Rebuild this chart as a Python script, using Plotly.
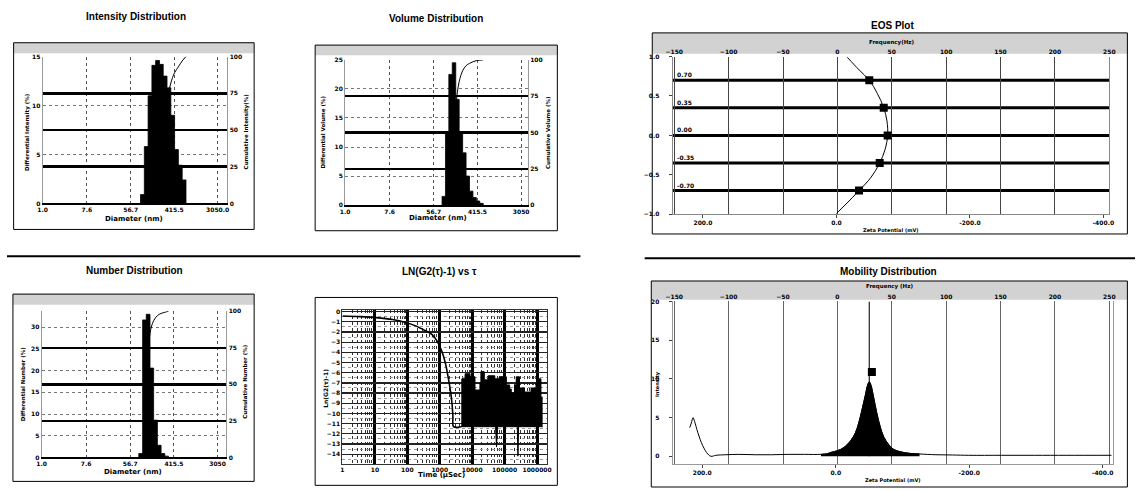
import plotly.graph_objects as go

W, H = 1141, 491

# ---------------- data ----------------
size_tickvals = [1.0, 7.6, 56.7, 415.5, 3050.0]
int_ticktext = ["1.0", "7.6", "56.7", "415.5", "3050.0"]
vol_ticktext = ["1.0", "7.6", "56.7", "415.5", "3050"]
num_ticktext = ["1.0", "7.6", "56.7", "415.5", "3050"]
cum_tickvals = [0, 25, 50, 75, 100]

int_edges_nm = [89, 106, 126, 150, 178, 212, 252, 300, 357, 424, 505, 601, 715]
int_diff_pct = [0.9, 5.8, 11.0, 14.1, 14.6, 14.2, 13.0, 11.8, 9.0, 5.5, 3.9, 2.4]
int_cum_pct = [0, 1, 6, 16, 29, 43, 57, 70, 82, 89, 93, 97, 100]

vol_edges_nm = [83, 97, 113, 132, 155, 181, 212, 248, 290, 339, 396, 463, 542]
vol_diff_pct = [1.5, 12.3, 22.5, 24.5, 18.2, 12.5, 9.0, 5.0, 2.4, 1.3, 0.7, 0.3]
vol_cum_pct = [0, 1, 12, 35, 68, 85, 92.5, 96, 97.6, 98.7, 99.5, 99.8, 100]

num_edges_nm = [84, 100, 118, 140, 165, 196, 232, 275, 325]
num_diff_pct = [0.9, 31.7, 33.0, 20.6, 8.6, 2.8, 0.9, 0.3]
num_cum_pct = [0, 2, 45, 85, 93.5, 97, 98.5, 99.3, 100]

# LN(G2(tau)-1) vs tau
tau_fit_us = [1, 3.4, 10.9, 35, 89, 180, 364, 582, 828, 1175, 1485, 1792, 2109, 2371, 2545, 2667, 4500]
ln_fit = [-0.43, -0.49, -0.59, -0.78, -1.07, -1.40, -1.88, -2.25, -2.9, -3.95, -5.05,
          -6.35, -7.65, -8.95, -10.25, -11.3, -11.3]
noise_tau_us = [4500, 4790, 6040, 8590, 12190, 17300, 18550, 23550, 31190, 49660, 70470,
                112700, 142500, 160000, 201800, 227500, 287000, 407400, 651600, 926000,
                1042000, 1315000, 1479000]
noise_upper = [-11.3, -6.6, -6.1, -6.4, -7.7, -7.0, -5.9, -6.7, -6.3, -6.6, -6.4,
               -7.2, -7.6, -8.0, -7.2, -6.4, -7.5, -7.9, -7.5, -7.0, -6.6, -8.4, -8.4]
noise_low_tau_us = [4500, 52500, 56200, 60300, 245500, 257000, 269000, 1479000]
noise_lower = [-11.3, -11.3, -13.3, -11.3, -11.3, -14.2, -11.3, -11.3]
ln_tickvals = [1, 10, 100, 1000, 10000, 100000, 1000000]
ln_ticktext = ["1", "10", "100", "1000", "10000", "100000", "1000000"]
ln_ytickvals = list(range(0, -15, -1))

# EOS plot
eos_pos = [0.70, 0.35, 0.00, -0.35, -0.70]
eos_freq_hz = [29.3, 42.6, 46.2, 38.9, 19.9]
eos_fit_pos = [0.99, 0.83, 0.70, 0.53, 0.35, 0.18, 0.00, -0.18, -0.35, -0.53, -0.70, -0.87, -0.99]
eos_fit_hz = [9.1, 20.0, 29.3, 36.8, 42.6, 45.6, 46.2, 43.8, 38.9, 31.0, 19.9, 8.0, -0.9]

freq_tickvals = [-150, -100, -50, 0, 50, 100, 150, 200, 250]
zeta_tickvals = [200, 0, -200, -400]
zeta_ticktext = ["200.0", "0.0", "-200.0", "-400.0"]

# Mobility distribution
mob_hz = [-135.8, -134.3, -132.8, -131.3, -128.3, -123.8, -119.2, -116.2, -111.7, -102.6,
          -90.6, -75.5, -60.4, -45.3, -30.2, -15.1, -9.1, -6.0, 0.0, 6.0, 12.1, 16.6, 19.6,
          22.6, 25.7, 27.8, 29.3, 30.8, 33.2, 36.2, 39.2, 42.3, 46.8, 51.3, 57.4, 66.4, 75.5,
          90.6, 105.7, 120.8, 151.0, 181.0, 211.0, 252.0]
mob_int = [3.7, 4.3, 5.0, 4.5, 3.05, 1.36, 0.3, 0.0, 0.13, 0.2, 0.25, 0.2, 0.2, 0.25, 0.25,
           0.25, 0.34, 0.5, 0.72, 1.14, 2.0, 3.05, 4.3, 6.0, 7.9, 9.2, 9.6, 9.2, 7.7, 5.6, 3.9,
           2.6, 1.57, 0.93, 0.6, 0.38, 0.3, 0.2, 0.17, 0.13, 0.13, 0.13, 0.13, 0.13]
mob_peak_hz = 29.3
mob_marker_hz = 31.7
mob_marker_val = 10.9
mob_fill_range_hz = [-15.1, 75.5]

# ---------------- helpers ----------------
TF = dict(family="DejaVu Sans", size=6, color="black", weight="bold")


def xdom(a, b):
    return [a / W, b / W]


def ydom(top, bot):
    return [1 - bot / H, 1 - top / H]


fig = go.Figure()


def add_dist(edges, diff, cum, xa, ya, ya2):
    xs = [edges[0]] + list(edges)
    ys = [0] + list(diff) + [0]
    fig.add_trace(go.Scatter(x=xs, y=ys, mode="lines",
                             line=dict(color="black", width=0.8, shape="hv"),
                             fill="tozeroy", fillcolor="black",
                             xaxis=xa, yaxis=ya, hoverinfo="skip"))
    fig.add_trace(go.Scatter(x=edges, y=cum, mode="lines",
                             line=dict(color="black", width=1, shape="spline"),
                             xaxis=xa, yaxis=ya2, hoverinfo="skip"))


add_dist(int_edges_nm, int_diff_pct, int_cum_pct, "x", "y", "y2")
add_dist(vol_edges_nm, vol_diff_pct, vol_cum_pct, "x2", "y3", "y4")
add_dist(num_edges_nm, num_diff_pct, num_cum_pct, "x3", "y5", "y6")

# LN plot
fig.add_trace(go.Scatter(x=noise_low_tau_us, y=noise_lower, mode="lines",
                         line=dict(color="black", width=1), xaxis="x4", yaxis="y7"))
fig.add_trace(go.Scatter(x=noise_tau_us, y=noise_upper, mode="lines",
                         line=dict(color="black", width=1, shape="hv"),
                         fill="tonexty", fillcolor="black", xaxis="x4", yaxis="y7"))
fig.add_trace(go.Scatter(x=tau_fit_us, y=ln_fit, mode="lines",
                         line=dict(color="black", width=1.6, shape="spline"),
                         xaxis="x4", yaxis="y7"))

# EOS
fig.add_trace(go.Scatter(x=zeta_tickvals, y=[0] * len(zeta_tickvals), mode="markers",
                         marker=dict(opacity=0), xaxis="x5", yaxis="y8", hoverinfo="skip"))
fig.add_trace(go.Scatter(x=eos_fit_hz, y=eos_fit_pos, mode="lines",
                         line=dict(color="black", width=1, shape="spline"),
                         xaxis="x6", yaxis="y8"))
fig.add_trace(go.Scatter(x=eos_freq_hz, y=eos_pos, mode="markers",
                         marker=dict(symbol="square", size=8, color="black"),
                         xaxis="x6", yaxis="y8"))

# Mobility
fig.add_trace(go.Scatter(x=zeta_tickvals, y=[0] * len(zeta_tickvals), mode="markers",
                         marker=dict(opacity=0), xaxis="x7", yaxis="y9", hoverinfo="skip"))
fill_hz = [h for h in mob_hz if mob_fill_range_hz[0] <= h <= mob_fill_range_hz[1]]
fill_int = [v for h, v in zip(mob_hz, mob_int) if mob_fill_range_hz[0] <= h <= mob_fill_range_hz[1]]
fig.add_trace(go.Scatter(x=[mob_peak_hz, mob_peak_hz], y=[0, 20], mode="lines",
                         line=dict(color="#222", width=1.2), xaxis="x8", yaxis="y9"))
fig.add_trace(go.Scatter(x=fill_hz, y=fill_int, mode="lines",
                         line=dict(color="black", width=1, shape="spline"),
                         fill="tozeroy", fillcolor="black", xaxis="x8", yaxis="y9"))
fig.add_trace(go.Scatter(x=mob_hz, y=mob_int, mode="lines",
                         line=dict(color="black", width=1, shape="spline"),
                         xaxis="x8", yaxis="y9"))
fig.add_trace(go.Scatter(x=[mob_marker_hz], y=[mob_marker_val], mode="markers",
                         marker=dict(symbol="square", size=8, color="black"),
                         xaxis="x8", yaxis="y9"))


# ---------------- axes ----------------
def size_axis(dom, anchor, rng, ticktext):
    return dict(domain=dom, anchor=anchor, type="log", range=rng, tickmode="array",
                tickvals=size_tickvals, ticktext=ticktext, showgrid=True, gridcolor="#555",
                griddash="dot", gridwidth=1, showline=True, linecolor="black", linewidth=1.5,
                ticks="", tickfont=TF, zeroline=False)


def left_axis(dom, anchor, rng, tv):
    return dict(domain=dom, anchor=anchor, range=rng, tickmode="array", tickvals=tv,
                showgrid=True, gridcolor="#777", griddash="dot", gridwidth=1, showline=True,
                linecolor="#999", linewidth=1, ticks="", tickfont=TF, zeroline=False)


def right_axis(overlay, anchor):
    return dict(overlaying=overlay, anchor=anchor, side="right", range=[0, 100],
                tickmode="array", tickvals=cum_tickvals, showgrid=True, gridcolor="black",
                gridwidth=2.5, showline=True, linecolor="#999", ticks="", tickfont=TF,
                zeroline=False)


lay = dict(width=W, height=H, margin=dict(l=0, r=0, t=0, b=0), paper_bgcolor="white",
           plot_bgcolor="rgba(0,0,0,0)", showlegend=False, hovermode=False,
           font=dict(family="DejaVu Sans", color="black"))

lay["xaxis"] = size_axis(xdom(36, 223), "y", [0, 3.68], int_ticktext)
lay["yaxis"] = left_axis(ydom(53.3, 202.3), "x", [0, 15], [0, 5, 10, 15])
lay["yaxis2"] = right_axis("y", "x")

lay["xaxis2"] = size_axis(xdom(342, 527), "y3", [0, 3.62], vol_ticktext)
lay["yaxis3"] = left_axis(ydom(56.7, 204), "x2", [0, 25], [0, 5, 10, 15, 20, 25])
lay["yaxis4"] = right_axis("y3", "x2")

lay["xaxis3"] = size_axis(xdom(35, 222), "y5", [0, 3.66], num_ticktext)
lay["yaxis5"] = left_axis(ydom(311.7, 460), "x3", [0, 33.7], [0, 5, 10, 15, 20, 25, 30])
lay["yaxis6"] = right_axis("y5", "x3")

ln_minor = [k * 10 ** d for d in range(0, 7) for k in range(2, 10)]
lay["xaxis4"] = dict(domain=xdom(339.3, 546.7), anchor="y7", type="log", range=[0, 6.32],
                     tickmode="array", tickvals=ln_tickvals, ticktext=ln_ticktext,
                     showgrid=True, gridcolor="black", gridwidth=3, ticks="", tickfont=TF,
                     showline=True, linecolor="#333", mirror=True, zeroline=False,
                     minor=dict(tickmode="array", tickvals=ln_minor, showgrid=True,
                                gridcolor="#333", griddash="dot", gridwidth=1, ticks=""))
lay["yaxis7"] = dict(domain=ydom(310, 466.5), anchor="x4", range=[-14.95, 0.2],
                     tickmode="array", tickvals=ln_ytickvals, showgrid=True, gridcolor="#222",
                     gridwidth=1.3, ticks="", tickfont=TF, showline=True, linecolor="#333",
                     mirror=True, zeroline=False,
                     minor=dict(dtick=0.5, showgrid=True, gridcolor="#999", griddash="dot",
                                gridwidth=1, ticks=""))

# EOS axes
lay["xaxis5"] = dict(domain=xdom(673.3, 1115), anchor="y8", range=[245.5, -408.9],
                     tickmode="array", tickvals=zeta_tickvals, ticktext=zeta_ticktext,
                     showgrid=False, ticks="outside", ticklen=3, tickcolor="#444",
                     tickfont=TF, showline=True, linecolor="#888", zeroline=False)
lay["xaxis6"] = dict(overlaying="x5", anchor="y8", side="top", range=[-151.5, 250],
                     tickmode="array", tickvals=freq_tickvals, showgrid=True,
                     gridcolor="#444", gridwidth=1, ticks="", tickfont=TF, zeroline=False)
lay["yaxis8"] = dict(domain=ydom(53.3, 213.3), anchor="x5", range=[-1, 1], tickmode="array",
                     tickvals=[1.0, 0.5, 0.0, -0.5, -1.0], tickformat=".1f", showgrid=False,
                     ticks="outside", ticklen=3, tickcolor="#444", ticklabelstandoff=8,
                     tickfont=TF, showline=True, linecolor="#888", mirror=True,
                     zeroline=False)

# Mobility axes
lay["xaxis7"] = dict(domain=xdom(673.3, 1118.3), anchor="y9", range=[244.4, -414.8],
                     tickmode="array", tickvals=zeta_tickvals, ticktext=zeta_ticktext,
                     showgrid=False, ticks="outside", ticklen=3, tickcolor="#444",
                     tickfont=TF, showline=True, linecolor="#999", zeroline=False)
lay["xaxis8"] = dict(overlaying="x7", anchor="y9", side="top", range=[-151.5, 253],
                     tickmode="array", tickvals=freq_tickvals, showgrid=True,
                     gridcolor="#666", gridwidth=1, ticks="", tickfont=TF, zeroline=False)
lay["yaxis9"] = dict(domain=ydom(301.7, 466.7), anchor="x7", range=[-1, 20],
                     tickmode="array", tickvals=[0, 5, 10, 15, 20], showgrid=False,
                     ticks="outside", ticklen=3, tickcolor="#444", ticklabelstandoff=8,
                     tickfont=TF, showline=True, linecolor="#999", mirror=True,
                     zeroline=False)

# ---------------- shapes ----------------
shapes = []


def prect(x0, y0, x1, y1, fill=None, lw=1, layer="above"):
    d = dict(type="rect", xref="paper", yref="paper", x0=x0 / W, x1=x1 / W,
             y0=1 - y1 / H, y1=1 - y0 / H, layer=layer)
    if fill:
        d.update(fillcolor=fill, line=dict(width=0))
    else:
        d.update(line=dict(color="black", width=lw))
    return d


# grey header bands
for b in [(6.7, 39.3, 250, 50), (311.7, 41.7, 556.7, 52), (6, 294.3, 250, 305),
          (652.7, 29.3, 1133.3, 50.5), (651.7, 281, 1133.3, 300)]:
    shapes.append(prect(*b, fill="#d2d2d2", layer="below"))
# outer boxes
for b in [(6.7, 39.3, 250, 228.7), (311.7, 41.7, 556.7, 230), (6, 294.3, 250, 484.3),
          (311.7, 297.7, 556.7, 488.3), (652.7, 29.3, 1133.3, 233.3), (651.7, 281, 1133.3, 490)]:
    shapes.append(prect(*b))
# separators
shapes.append(dict(type="line", xref="paper", yref="paper", x0=0, x1=580 / W,
                   y0=1 - 256 / H, y1=1 - 256 / H, line=dict(color="black", width=2)))
shapes.append(dict(type="line", xref="paper", yref="paper", x0=645 / W, x1=1,
                   y0=1 - 258 / H, y1=1 - 258 / H, line=dict(color="black", width=2)))
# EOS position lines
for p in eos_pos:
    shapes.append(dict(type="line", xref="x6 domain", yref="y8", x0=0, x1=1, y0=p, y1=p,
                       line=dict(color="black", width=3), layer="below"))

# ---------------- annotations ----------------
ann = []


def note(text, x, y, size=7, angle=0, bold=True, family="DejaVu Sans"):
    ann.append(dict(text=("<b>%s</b>" % text) if bold else text, x=x / W, y=1 - y / H,
                    xref="paper", yref="paper", showarrow=False, textangle=angle,
                    xanchor="center", yanchor="middle",
                    font=dict(family=family, size=size, color="black")))


TITLE_F = "Liberation Sans"
note("Intensity Distribution", 130, 13, 10, family=TITLE_F)
note("Volume Distribution", 434, 15, 10, family=TITLE_F)
note("Number Distribution", 129, 270, 10, family=TITLE_F)
note("LN(G2(τ)-1) vs τ", 437, 271, 10, family=TITLE_F)
note("EOS Plot", 896, 22, 10, family=TITLE_F)
note("Mobility Distribution", 892, 271, 10, family=TITLE_F)

note("Diameter (nm)", 128, 218, 7)
note("Differential Intensity (%)", 20, 130, 5.5, angle=-90)
note("Cumulative Intensity(%)", 242, 129, 5.5, angle=-90)
note("Diameter (nm)", 436, 217, 7)
note("Differential Volume (%)", 320, 130, 5.5, angle=-90)
note("Cumulative Volume (%)", 547, 130, 5.5, angle=-90)
note("Diameter (nm)", 127, 475, 7)
note("Differential Number (%)", 16, 385, 5.5, angle=-90)
note("Cumulative Number (%)", 240, 383, 5.5, angle=-90)
note("Time (μSec)", 440, 478, 7)
note("Ln(G2(τ)-1)", 322, 390, 6, angle=-90)
note("Frequency(Hz)", 895, 39, 5.5)
note("Zeta Potential (mV)", 894, 229, 5)
note("Frequency (Hz)", 893, 287, 5.5)
note("Zeta Potential (mV)", 896, 483, 5)
note("Intensity", 658, 386, 5, angle=-90)

for p in eos_pos:
    ann.append(dict(text="<b>%.2f</b>" % p, xref="x6 domain", yref="y8", x=0.005, y=p,
                    xanchor="left", yanchor="bottom", showarrow=False, yshift=0,
                    font=dict(family="DejaVu Sans", size=6, color="black")))

lay["shapes"] = shapes
lay["annotations"] = ann
fig.update_layout(**lay)
fig.write_html("out.html",
               config={"displayModeBar": False, "staticPlot": True},
               post_script="document.body.style.margin='0';"
                           "document.body.style.overflow='hidden';")
